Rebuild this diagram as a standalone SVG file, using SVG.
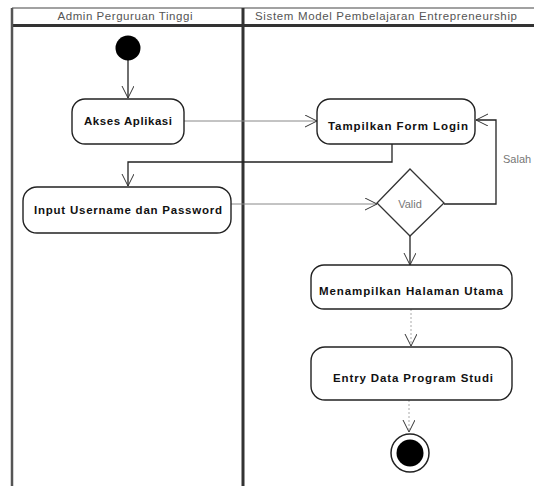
<svg xmlns="http://www.w3.org/2000/svg" width="534" height="486" viewBox="0 0 534 486">
<style>
.hdr{font-family:"Liberation Sans",Arial,sans-serif;font-size:11.5px;fill:#555;text-anchor:middle}
.lbl{font-family:"Liberation Sans",Arial,sans-serif;font-size:11.5px;font-weight:bold;fill:#111;text-anchor:middle}
.small{font-family:"Liberation Sans",Arial,sans-serif;font-size:11px;fill:#777}
.act{fill:#fff;stroke:#222;stroke-width:1.4}
.c{fill:none;stroke:#888;stroke-width:1}
.cd{fill:none;stroke:#222;stroke-width:1.3}
.dot{fill:none;stroke:#aaa;stroke-width:1;stroke-dasharray:2 2}
</style>
<defs>
<marker id="a" markerUnits="userSpaceOnUse" markerWidth="14" markerHeight="14" refX="12" refY="6" orient="auto">
<path d="M0,0 L12,6 L0,12" fill="none" stroke="#333" stroke-width="1"/>
</marker>
</defs>
<rect width="534" height="486" fill="#fff"/>
<g id="swimlanes">
<line x1="12" y1="8" x2="534" y2="8" stroke="#444" stroke-width="1.2"/>
<line x1="12" y1="25.5" x2="534" y2="25.5" stroke="#333" stroke-width="3"/>
<line x1="12" y1="8" x2="12" y2="486" stroke="#555" stroke-width="2.5"/>
<line x1="243" y1="8" x2="243" y2="486" stroke="#333" stroke-width="3"/>
<text class="hdr" x="125" y="20" textLength="135">Admin Perguruan Tinggi</text>
<text class="hdr" x="386" y="20" textLength="262">Sistem Model Pembelajaran Entrepreneurship</text>
</g>
<g id="connectors">
<line class="cd" x1="128" y1="60" x2="128" y2="98" marker-end="url(#a)"/>
<line class="c" x1="184" y1="121" x2="317" y2="121" marker-end="url(#a)"/>
<polyline class="cd" points="392,144 392,162 128,162 128,186" marker-end="url(#a)"/>
<line class="c" x1="231" y1="204" x2="377" y2="204" marker-end="url(#a)"/>
<polyline class="cd" points="444,204 496,204 496,120 476,120" marker-end="url(#a)"/>
<text class="small" x="503" y="163">Salah</text>
<line class="cd" x1="410" y1="236" x2="410" y2="265" stroke-width="2" marker-end="url(#a)"/>
<line class="dot" x1="411" y1="309" x2="411" y2="346" marker-end="url(#a)"/>
<line class="dot" x1="409" y1="400" x2="409" y2="432" marker-end="url(#a)"/>
</g>
<g id="start"><circle cx="128" cy="48" r="12.5" fill="#000"/></g>
<g id="akses-aplikasi">
<rect class="act" x="72" y="99" width="112" height="45" rx="13"/>
<text class="lbl" x="128" y="125" textLength="88">Akses Aplikasi</text>
</g>
<g id="tampilkan-form-login">
<rect class="act" x="317" y="99" width="158" height="45" rx="13"/>
<text class="lbl" x="398" y="130" textLength="140">Tampilkan Form Login</text>
</g>
<g id="input-username">
<rect class="act" x="23" y="187" width="208" height="46" rx="14"/>
<text class="lbl" x="128" y="214" textLength="188">Input Username dan Password</text>
</g>
<g id="valid">
<polygon points="410,169 444,203 410,236 377,203" fill="#fff" stroke="#333" stroke-width="1.3"/>
<text class="small" x="410" y="208" text-anchor="middle">Valid</text>
</g>
<g id="menampilkan-halaman-utama">
<rect class="act" x="311" y="265" width="201" height="44" rx="13"/>
<text class="lbl" x="411" y="295" textLength="184">Menampilkan Halaman Utama</text>
</g>
<g id="entry-data-program-studi">
<rect class="act" x="311" y="347" width="201" height="53" rx="14"/>
<text class="lbl" x="413" y="382" textLength="160">Entry Data Program Studi</text>
</g>
<g id="end">
<circle cx="410" cy="453" r="19" fill="#fff" stroke="#222" stroke-width="1.5"/>
<circle cx="410" cy="453" r="13.5" fill="#000"/>
</g>
</svg>
